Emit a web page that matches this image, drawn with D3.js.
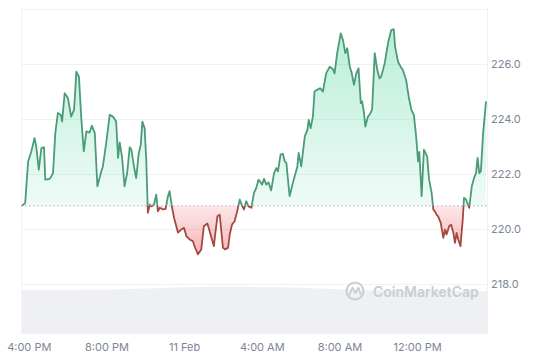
<!DOCTYPE html>
<html><head><meta charset="utf-8">
<script src="https://cdn.jsdelivr.net/npm/d3@7"></script>
<style>html,body{margin:0;padding:0;background:#fff;} svg{display:block;font-family:Inter,"Noto Sans",sans-serif;}</style>
</head><body><div id="chart"></div>
<script>
// ---- data ----
const startTime = new Date(2025, 1, 10, 15, 36); // chart window start (10 Feb, 3:36 PM)
const minuteOffsets = [3,13,22,32,42,47,55,63,71,75,89,99,106,114,123,127,135,145,155,164,171,179,186,194,202,212,219,228,236,244,248,253,264,274,284,294,300,305,312,320,328,336,341,349,356,364,370,375,382,387,392,398,403,411,418,423,429,439,447,454,459,467,473,485,495,504,511,521,531,538,547,557,565,576,583,590,596,600,607,614,619,624,631,640,645,652,660,668,676,683,689,696,703,712,720,727,734,738,745,751,758,765,773,782,789,794,802,809,815,820,830,840,847,854,858,866,877,885,889,895,902,907,915,924,933,943,954,964,969,977,988,995,1002,1008,1016,1021,1029,1036,1043,1050,1054,1060,1064,1072,1077,1085,1093,1101,1108,1113,1124,1134,1144,1152,1156,1165,1173,1180,1185,1190,1198,1206,1214,1221,1227,1231,1234,1238,1245,1255,1261,1269,1274,1279,1284,1289,1297,1305,1310,1315,1323,1329,1336,1341,1346,1351,1358,1365,1369,1375,1385,1393,1400,1406,1411,1416,1421,1428,1437];
const prices = [220.85,220.96,222.46,222.83,223.31,223.01,222.16,222.95,222.98,221.80,221.83,222.04,223.49,224.22,224.15,223.91,224.94,224.76,224.09,224.34,225.72,225.54,224.09,222.83,223.55,223.51,223.76,223.49,221.56,221.92,222.10,222.28,223.19,224.15,224.09,223.91,222.59,223.15,222.64,221.56,222.04,222.98,222.89,222.28,221.86,222.77,223.07,223.91,223.67,222.53,220.60,220.90,220.83,220.90,221.26,220.65,220.78,220.72,220.74,221.20,221.38,220.78,220.41,219.88,219.99,220.05,219.75,219.63,219.57,219.33,219.09,219.27,220.11,220.21,219.93,219.63,219.39,219.81,220.47,220.53,219.93,219.33,219.27,219.33,219.81,220.17,220.29,220.65,221.08,220.86,220.72,221.02,220.83,220.78,221.32,221.50,221.80,221.74,221.62,221.83,221.62,221.70,221.41,222.04,222.22,222.10,222.71,222.74,222.46,222.41,221.20,221.68,221.98,222.28,222.77,222.28,223.37,223.61,223.97,223.67,224.09,225.00,225.06,225.12,225.00,225.66,225.90,225.81,225.66,226.39,227.11,226.87,226.39,226.57,225.90,225.72,225.24,225.66,225.84,224.58,224.64,224.22,223.73,224.09,224.15,224.34,226.39,225.78,225.48,225.54,226.03,226.75,227.23,227.26,226.63,226.08,225.90,225.78,225.60,225.42,224.82,224.34,224.15,223.37,222.46,222.81,222.09,221.20,222.89,222.64,221.80,221.32,220.72,220.65,220.53,220.47,220.23,219.69,219.99,219.81,220.11,220.17,219.87,219.51,219.87,219.63,219.39,220.35,221.14,221.08,220.78,221.56,221.86,222.04,222.59,222.04,222.10,223.49,224.64];
const volumeOffsets = [0,120,240,360,480,600,720,840,960,1080,1200,1320,1440];
const volumes = [44.0,44.1,44.0,45.0,46.8,47.3,47.2,46.6,45.0,43.6,43.0,42.9,43.0];
const yTickValues = [218, 220, 222, 224, 226];
const xTickLabels = ["4:00 PM", "8:00 PM", "11 Feb", "4:00 AM", "8:00 AM", "12:00 PM"];

// ---- layout ----
const W = 545, H = 363, L = 21, R = 487, T = 8, B = 334;
const svg = d3.select("#chart").append("svg").attr("width", W).attr("height", H);

const x = d3.scaleTime().domain([startTime, d3.timeMinute.offset(startTime, 1440)]).range([L, R]);
const y = d3.scaleLinear().domain([216.2, 228.03]).range([B, T]);
const yVol = d3.scaleLinear().domain([0, 50]).range([B, B - 50]);

const data = minuteOffsets.map((m, i) => ({ t: d3.timeMinute.offset(startTime, m), p: prices[i] }));
const vdata = volumeOffsets.map((m, i) => ({ t: d3.timeMinute.offset(startTime, m), v: volumes[i] }));
const base = prices[0];
const by = y(base);

const defs = svg.append("defs");
const gg = defs.append("linearGradient").attr("id", "gg").attr("gradientUnits", "userSpaceOnUse")
  .attr("x1", 0).attr("x2", 0).attr("y1", y(d3.max(prices))).attr("y2", by);
gg.append("stop").attr("offset", 0).attr("stop-color", "#16c784").attr("stop-opacity", 0.3);
gg.append("stop").attr("offset", 1).attr("stop-color", "#16c784").attr("stop-opacity", 0.07);
const rg = defs.append("linearGradient").attr("id", "rg").attr("gradientUnits", "userSpaceOnUse")
  .attr("x1", 0).attr("x2", 0).attr("y1", by).attr("y2", y(d3.min(prices)));
rg.append("stop").attr("offset", 0).attr("stop-color", "#ea3943").attr("stop-opacity", 0.12);
rg.append("stop").attr("offset", 1).attr("stop-color", "#ea3943").attr("stop-opacity", 0.38);
defs.append("clipPath").attr("id", "above").append("rect").attr("x", L).attr("y", T).attr("width", R - L).attr("height", by - T);
defs.append("clipPath").attr("id", "below").append("rect").attr("x", L).attr("y", by).attr("width", R - L).attr("height", B - by);

// volume band
svg.append("path").datum(vdata)
  .attr("d", d3.area().x(d => x(d.t)).y0(B).y1(d => yVol(d.v)).curve(d3.curveBasis))
  .attr("fill", "#eef0f3");

// grid
const grid = svg.append("g");
grid.selectAll("line.h").data(yTickValues.concat([228])).join("line")
  .attr("x1", L).attr("x2", R).attr("y1", d => Math.round(y(d)) + 0.5).attr("y2", d => Math.round(y(d)) + 0.5)
  .attr("stroke", "#eff1f4").attr("stroke-width", 1);
grid.append("line").attr("x1", L + 0.5).attr("x2", L + 0.5).attr("y1", T).attr("y2", B).attr("stroke", "#f2f3f5");
grid.append("line").attr("x1", R + 0.5).attr("x2", R + 0.5).attr("y1", T).attr("y2", B).attr("stroke", "#eff1f4");

// watermark
const wm = svg.append("g").attr("fill", "none").attr("stroke", "#c9cdd4");
wm.append("circle").attr("cx", 355).attr("cy", 291).attr("r", 8.5).attr("stroke-width", 2);
wm.append("path").attr("d", "M349.5,294.5 L352.5,287.5 L355.5,293 L358.5,287.5 L360.5,294").attr("stroke-width", 1.8)
  .attr("stroke-linejoin", "round").attr("stroke-linecap", "round");
svg.append("text").attr("x", 373).attr("y", 296.5).text("CoinMarketCap")
  .attr("fill", "#c9cdd4").attr("font-size", 14).attr("font-weight", 600);

// areas
const area = d3.area().x(d => x(d.t)).y0(by).y1(d => y(d.p));
const line = d3.line().x(d => x(d.t)).y(d => y(d.p));
svg.append("path").datum(data).attr("d", area).attr("fill", "url(#gg)").attr("clip-path", "url(#above)");
svg.append("path").datum(data).attr("d", area).attr("fill", "url(#rg)").attr("clip-path", "url(#below)");

// baseline
svg.append("line").attr("x1", L).attr("x2", R).attr("y1", by).attr("y2", by)
  .attr("stroke", "#a7aebb").attr("stroke-width", 1).attr("stroke-dasharray", "1.5,2.5");

// lines
svg.append("path").datum(data).attr("d", line).attr("fill", "none").attr("stroke", "#4a9b77")
  .attr("stroke-width", 1.8).attr("stroke-linejoin", "round").attr("clip-path", "url(#above)");
svg.append("path").datum(data).attr("d", line).attr("fill", "none").attr("stroke", "#a5493f")
  .attr("stroke-width", 1.8).attr("stroke-linejoin", "round").attr("clip-path", "url(#below)");

// axes
const xTicks = d3.timeHour.every(4).range(startTime, d3.timeMinute.offset(startTime, 1440));
const xAxis = d3.axisBottom(x).tickValues(xTicks).tickFormat((d, i) => xTickLabels[i]).tickSize(0).tickPadding(9);
const gx = svg.append("g").attr("transform", `translate(0,${B})`).call(xAxis);
gx.select(".domain").remove();
gx.selectAll("text").attr("fill", "#7d8596").attr("font-size", 11).attr("font-family", "Inter, sans-serif");

const yAxis = d3.axisRight(y).tickValues(yTickValues).tickFormat(d3.format(".1f")).tickSize(0).tickPadding(4);
const gy = svg.append("g").attr("transform", `translate(${R},0)`).call(yAxis);
gy.select(".domain").remove();
gy.selectAll("text").attr("fill", "#7d8596").attr("font-size", 11).attr("font-family", "Inter, sans-serif");
</script>
</body></html>
